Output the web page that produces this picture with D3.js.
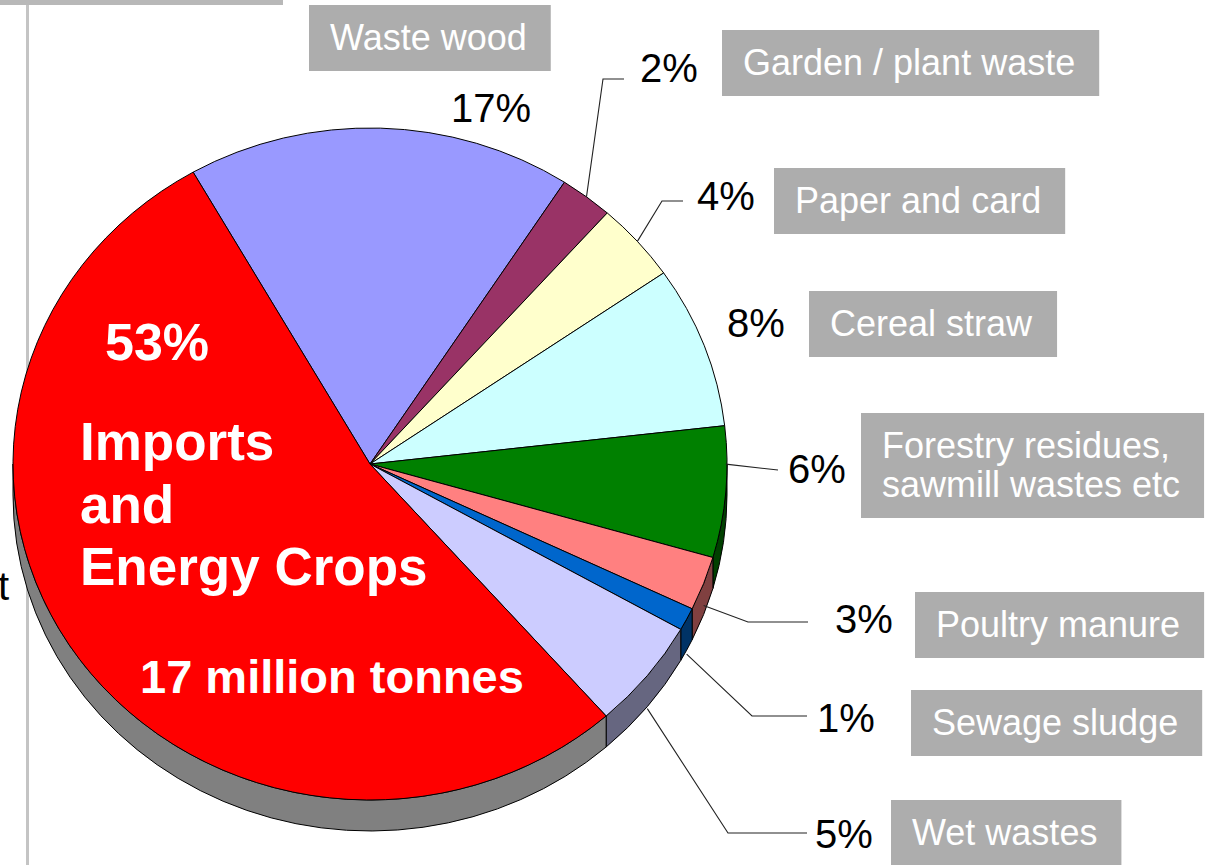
<!DOCTYPE html>
<html>
<head>
<meta charset="utf-8">
<script src="https://cdn.jsdelivr.net/npm/d3@7"></script>
<style>
  body { margin: 0; background: #fff; }
  svg { display: block; font-family: "Liberation Sans", Arial, sans-serif; }
</style>
</head>
<body>
<script>
// slice data, clockwise from the top (Waste wood) round to Imports
var categories = ["Waste wood", "Garden / plant waste", "Paper and card", "Cereal straw",
    "Forestry residues, sawmill wastes etc", "Poultry manure", "Sewage sludge", "Wet wastes",
    "Imports and Energy Crops"];
var shares = [17.4, 2.4, 3.8, 7.8, 6.3, 2.6, 1.1, 5.3, 53.2];
var topColors = ["#9999ff", "#993366", "#ffffcc", "#ccffff", "#008000", "#ff8080", "#0066cc", "#ccccff", "#ff0000"];
var sideColors = ["#4d4d80", "#4d1a33", "#808066", "#668080", "#004000", "#804040", "#003366", "#666680", "#808080"];
var boxLines = [["Waste wood"], ["Garden / plant waste"], ["Paper and card"], ["Cereal straw"],
    ["Forestry residues,", "sawmill wastes etc"], ["Poultry manure"], ["Sewage sludge"], ["Wet wastes"]];
var bigLabel = ["Imports", "and", "Energy Crops"];
var bigTonnes = "17 million tonnes";

var W = 1211, H = 865;
var cx = 370, cy = 464, rx = 357, ry = 336, depth = 31;

var svg = d3.select("body")
    .append("svg")
    .attr("width", W)
    .attr("height", H);

//slide frame bits showing at the left
svg.append("rect")
    .attr("x", 0).attr("y", 0)
    .attr("width", 283).attr("height", 5)
    .style("fill", "#b8b8b8");
svg.append("line")
    .attr("x1", 27.5).attr("x2", 27.5)
    .attr("y1", 5).attr("y2", H)
    .style("stroke", "#c4c4c4")
    .style("stroke-width", 3);
svg.append("text")
    .attr("x", 9).attr("y", 600)
    .attr("text-anchor", "end")
    .style("font-size", "40px")
    .text("t");

var startA = -29.7 * Math.PI / 180;
var pie = d3.pie()
    .sort(null)
    .value(function(d){ return d; })
    .startAngle(startA)
    .endAngle(startA + 2 * Math.PI);
var arcs = pie(shares);
var total = d3.sum(shares);

function pt(a, dy){
    return [cx + rx * Math.sin(a), cy - ry * Math.cos(a) + (dy || 0)];
}

//side walls, only the front half (90deg to 270deg) shows
var sides = svg.append("g");
arcs.forEach(function(d, i){
    var b0 = Math.max(d.startAngle, Math.PI / 2);
    var b1 = Math.min(d.endAngle, 3 * Math.PI / 2);
    if (b1 <= b0) return;
    var p0 = pt(b0), p1 = pt(b1), q1 = pt(b1, depth), q0 = pt(b0, depth);
    var path = "M" + p0 + "A" + rx + "," + ry + " 0 0 1 " + p1 +
        "L" + q1 + "A" + rx + "," + ry + " 0 0 0 " + q0 + "Z";
    sides.append("path")
        .attr("d", path)
        .style("fill", sideColors[i])
        .style("stroke", "#000")
        .style("stroke-width", 1)
        .style("stroke-linejoin", "round");
});

//top faces
svg.append("g").selectAll("path")
    .data(arcs)
    .enter()
    .append("path")
    .attr("d", function(d){
        var large = (d.endAngle - d.startAngle) > Math.PI ? 1 : 0;
        return "M" + cx + "," + cy + "L" + pt(d.startAngle) +
            "A" + rx + "," + ry + " 0 " + large + " 1 " + pt(d.endAngle) + "Z";
    })
    .style("fill", function(d, i){ return topColors[i]; })
    .style("stroke", "#000")
    .style("stroke-width", 1)
    .style("stroke-linejoin", "round");

//label layout for the small slices
var layout = [
    {tx: 330, ty: 50, px: 451, py: 122},
    {tx: 743, ty: 75, px: 640, py: 82, dy: 0, elbow: [603, 79], end: [624, 79]},
    {tx: 795, ty: 213, px: 697, py: 210, dy: 0, elbow: [662, 201], end: [683, 201]},
    {tx: 830, ty: 336, px: 727, py: 337},
    {tx: 882, ty: 458, px: 788, py: 483, dy: -28, end: [778, 470]},
    {tx: 936, ty: 637, px: 835, py: 633, dy: 22, elbow: [748, 622], end: [808, 622]},
    {tx: 932, ty: 735, px: 817, py: 732, dy: 35, elbow: [752, 716], end: [807, 716]},
    {tx: 912, ty: 845, px: 815, py: 848, dy: 33, elbow: [728, 833], end: [807, 833]}
];

var labels = svg.append("g");
layout.forEach(function(L, i){
    var d = arcs[i];
    if (L.end) {
        var mid = (d.startAngle + d.endAngle) / 2;
        var pts = [pt(mid, L.dy)];
        if (L.elbow) pts.push(L.elbow);
        pts.push(L.end);
        labels.append("path")
            .attr("d", d3.line()(pts))
            .style("fill", "none")
            .style("stroke", "#222")
            .style("stroke-width", 1.1);
    }
    labels.append("text")
        .attr("x", L.px).attr("y", L.py)
        .style("font-size", "40px")
        .style("fill", "#000")
        .text(Math.round(shares[i] / total * 100) + "%");

    var g = labels.append("g");
    var box = g.append("rect").style("fill", "#adadad");
    var t = g.append("text")
        .style("font-size", "36px")
        .style("fill", "#fff");
    boxLines[i].forEach(function(s, k){
        t.append("tspan")
            .attr("x", L.tx)
            .attr("y", L.ty + k * 39)
            .text(s);
    });
    var bb = t.node().getBBox();
    box.attr("x", bb.x - 21)
        .attr("y", bb.y - 12)
        .attr("width", bb.width + 45)
        .attr("height", bb.height + 25);
});

//white text on the big red slice
var bigPct = Math.round(shares[8] / total * 100) + "%";
svg.append("text")
    .attr("x", 105).attr("y", 360)
    .style("font-size", "52px").style("font-weight", "bold").style("fill", "#fff")
    .text(bigPct);
svg.append("text")
    .selectAll("tspan")
    .data(bigLabel)
    .enter()
    .append("tspan")
    .attr("x", 80)
    .attr("y", function(d, i){ return 460 + i * 62.5; })
    .style("font-size", "53px").style("font-weight", "bold").style("fill", "#fff")
    .text(function(d){ return d; });
svg.append("text")
    .attr("x", 140).attr("y", 693)
    .style("font-size", "47px").style("font-weight", "bold").style("fill", "#fff")
    .text(bigTonnes);
</script>
</body>
</html>
